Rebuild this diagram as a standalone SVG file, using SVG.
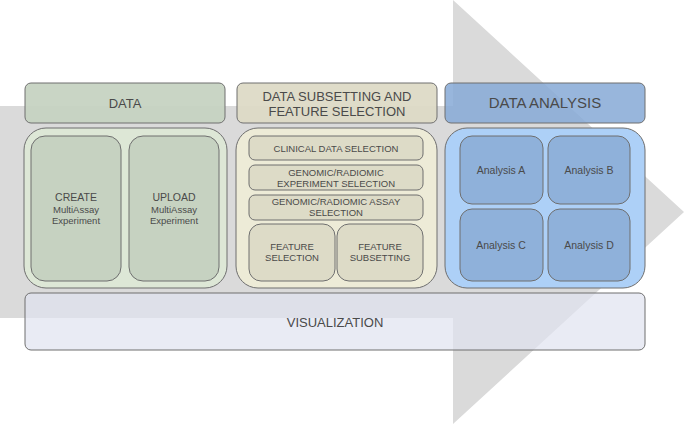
<svg xmlns="http://www.w3.org/2000/svg" width="685" height="425" viewBox="0 0 685 425">
<style>
text{font-family:"Liberation Sans",Arial,sans-serif;fill:#4a4a4a;text-anchor:middle}
.b{stroke:#6f6f6f;stroke-width:1}
.h{font-size:13px}
.s{font-size:9.5px}
.t{font-size:9.5px}
.a{font-size:10.5px}
</style>
<rect width="685" height="425" fill="#fff"/>
<g id="arrow"><polygon points="0,106 453,106 453,0 684,212 453,424 453,318 0,318" fill="#dadada"/></g>
<g id="data-header"><rect class="b" x="25" y="83" width="200" height="40" rx="6" fill="#c6d3c2" fill-opacity="0.95"/><text class="h" x="125" y="108">DATA</text></g>
<g id="subset-header"><rect class="b" x="237" y="83" width="200" height="40" rx="6" fill="#dddac6" fill-opacity="0.95"/><text class="h" x="337" y="101">DATA SUBSETTING AND</text><text class="h" x="337" y="116">FEATURE SELECTION</text></g>
<g id="analysis-header"><rect class="b" x="445" y="83" width="200" height="40" rx="6" fill="#86a9d6" fill-opacity="0.85"/><text x="545" y="108" font-size="15">DATA ANALYSIS</text></g>
<g id="data-panel"><rect class="b" x="24" y="128" width="203" height="160" rx="22" fill="#dde7d6"/></g>
<g id="create"><rect class="b" x="31" y="136" width="90" height="145" rx="14" fill="#c6d2c1"/><text x="76" y="201" font-size="10.5">CREATE</text><text class="s" x="76" y="213">MultiAssay</text><text class="s" x="76" y="224">Experiment</text></g>
<g id="upload"><rect class="b" x="129" y="136" width="90" height="145" rx="14" fill="#c6d2c1"/><text x="174" y="201" font-size="10.5">UPLOAD</text><text class="s" x="174" y="213">MultiAssay</text><text class="s" x="174" y="224">Experiment</text></g>
<g id="subset-panel"><rect class="b" x="236" y="128" width="201" height="160" rx="22" fill="#edebd7"/></g>
<g id="clinical"><rect class="b" x="249" y="136" width="174" height="24" rx="6" fill="#dddbc7"/><text class="t" x="336" y="152">CLINICAL DATA SELECTION</text></g>
<g id="experiment"><rect class="b" x="249" y="165" width="174" height="25" rx="6" fill="#dddbc7"/><text class="t" x="336" y="176">GENOMIC/RADIOMIC</text><text class="t" x="336" y="187">EXPERIMENT SELECTION</text></g>
<g id="assay"><rect class="b" x="249" y="195" width="174" height="25" rx="6" fill="#dddbc7"/><text class="t" x="336" y="205">GENOMIC/RADIOMIC ASSAY</text><text class="t" x="336" y="216">SELECTION</text></g>
<g id="feature-selection"><rect class="b" x="249" y="224" width="86" height="57" rx="12" fill="#dddbc7"/><text class="t" x="292" y="250">FEATURE</text><text class="t" x="292" y="261">SELECTION</text></g>
<g id="feature-subsetting"><rect class="b" x="337" y="224" width="86" height="57" rx="12" fill="#dddbc7"/><text class="t" x="380" y="250">FEATURE</text><text class="t" x="380" y="261">SUBSETTING</text></g>
<g id="analysis-panel"><rect class="b" x="445" y="128" width="200" height="160" rx="22" fill="#add0f7"/></g>
<g id="analysis-a"><rect class="b" x="460" y="136" width="83" height="68" rx="12" fill="#8fb1da"/><text class="a" x="501" y="174">Analysis A</text></g>
<g id="analysis-b"><rect class="b" x="548" y="136" width="82" height="68" rx="12" fill="#8fb1da"/><text class="a" x="589" y="174">Analysis B</text></g>
<g id="analysis-c"><rect class="b" x="460" y="209" width="83" height="72" rx="12" fill="#8fb1da"/><text class="a" x="501" y="249">Analysis C</text></g>
<g id="analysis-d"><rect class="b" x="548" y="209" width="82" height="72" rx="12" fill="#8fb1da"/><text class="a" x="589" y="249">Analysis D</text></g>
<g id="visualization"><rect class="b" x="25" y="293" width="620" height="57" rx="6" fill="#dfe2f0" fill-opacity="0.7"/><text class="h" x="335" y="327">VISUALIZATION</text></g>
<g id="connectors"></g>
</svg>
